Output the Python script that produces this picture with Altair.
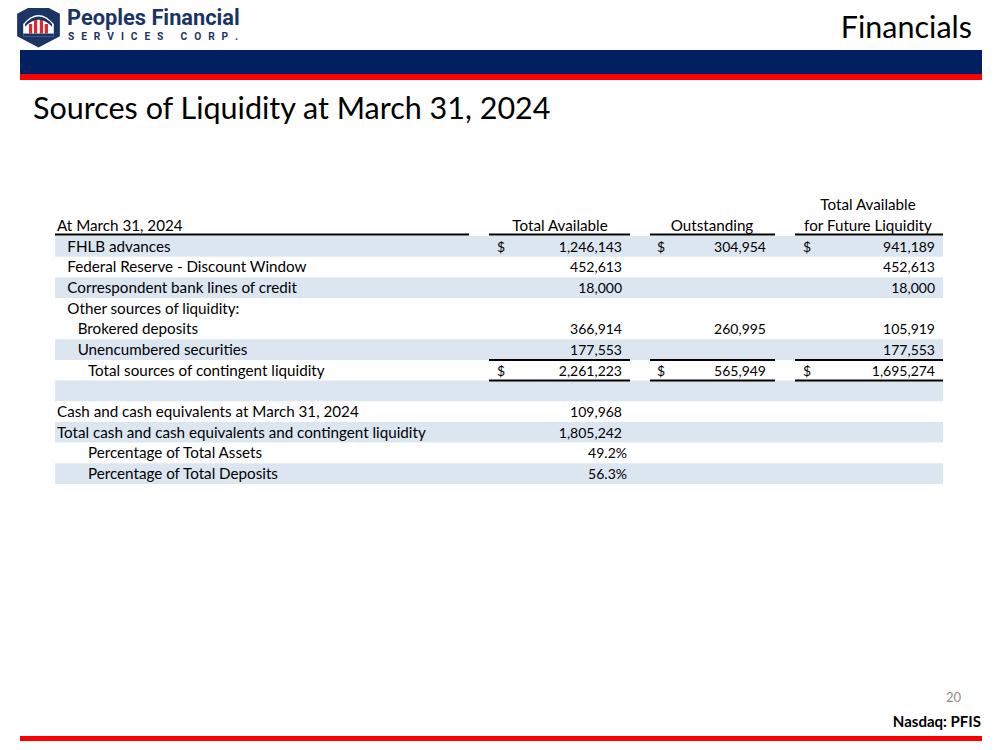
import altair as alt
import pandas as pd

# ---------------- data ----------------
labels = [
    "FHLB advances",
    "Federal Reserve - Discount Window",
    "Correspondent bank lines of credit",
    "Other sources of liquidity:",
    "Brokered deposits",
    "Unencumbered securities",
    "Total sources of contingent liquidity",
    "",
    "Cash and cash equivalents at March 31, 2024",
    "Total cash and cash equivalents and contingent liquidity",
    "Percentage of Total Assets",
    "Percentage of Total Deposits",
]
indent = [1, 1, 1, 1, 2, 2, 3, 0, 0, 0, 3, 3]
shaded = [1, 0, 1, 0, 0, 1, 0, 1, 0, 1, 0, 1]
dollar = [1, 0, 0, 0, 0, 0, 1, 0, 0, 0, 0, 0]
total_available = [1246143, 452613, 18000, None, 366914, 177553, 2261223, None, 109968, 1805242, None, None]
outstanding = [304954, None, None, None, 260995, None, 565949, None, None, None, None, None]
future_liquidity = [941189, 452613, 18000, None, 105919, 177553, 1695274, None, None, None, None, None]
percentages = [None] * 10 + [0.492, 0.563]

header_label = "At March 31, 2024"
col_headers = ["Total Available", "Outstanding", "Total Available", "for Future Liquidity"]
slide_title = "Sources of Liquidity at March 31, 2024"
section = "Financials"
page_no = "20"
ticker = "Nasdaq: PFIS"
company = "Peoples Financial"
company_sub_words = ["SERVICES", "CORP."]

# ---------------- layout helpers ----------------
TOP_PAD = 8
W, H = 983, 734 - TOP_PAD
FONT = "Lato"
NAVY = "#002060"
LOGO_NAVY = "#1B3466"
RED = "#FF0000"
BAND = "#DCE6F1"
LABEL_SIZE = 15.2
NUM_SIZE = 14


def px(v):
    return v - 8  # page margin


def py(v):
    return v - 8 - TOP_PAD  # page margin + top padding


df = pd.DataFrame({
    "row": list(range(len(labels))),
    "label": labels,
    "indent": indent,
    "shaded": shaded,
    "dollar": dollar,
    "ta": total_available,
    "out": outstanding,
    "fut": future_liquidity,
    "pct": percentages,
})
df["lo"] = df["row"] - 0.5
df["hi"] = df["row"] + 0.5

yscale = alt.Scale(domain=[0, 11], range=[py(246.3), py(473.6)])
ONE = pd.DataFrame({"k": [0]})


def txt(s, x, y, size=14, align="left", weight="normal", color="#000000", font=FONT):
    return alt.Chart(pd.DataFrame({"t": [s]})).mark_text(
        align=align, baseline="alphabetic", fontSize=size, fontWeight=weight,
        color=color, font=font
    ).encode(x=alt.value(px(x)), y=alt.value(py(y)), text="t:N")


def box(x1, x2, y1, y2, color):
    return alt.Chart(ONE).mark_rect(color=color).encode(
        x=alt.value(px(x1)), x2=alt.value(px(x2)), y=alt.value(py(y1)), y2=alt.value(py(y2))
    )


def hrule(x1, x2, y, w=2):
    return alt.Chart(ONE).mark_rule(color="#000000", strokeWidth=w).encode(
        x=alt.value(px(x1)), x2=alt.value(px(x2)), y=alt.value(py(y))
    )


layers = []

# header bars
layers.append(box(20, 982, 50, 74, NAVY))
layers.append(box(20, 982, 74, 80, RED))
# footer line
layers.append(box(20, 982, 736, 741, RED))

# logo
LOGO_SIZE = 2025
hexagon = "M0,-1 L0.95,-0.5 L0.95,0.5 L0,1 L-0.95,0.5 L-0.95,-0.5 Z"
arch = "M-0.68,0.5 L-0.68,-0.05 Q0,-0.85 0.68,-0.05 L0.68,0.5 Z"
roof = "M-0.6,-0.05 Q0,-0.7 0.6,-0.05 L0.6,0.08 Q0,-0.55 -0.6,0.08 Z"
bars = ("M-0.42,-0.05 L-0.28,-0.05 L-0.28,0.38 L-0.42,0.38 Z "
        "M-0.2,-0.22 L-0.06,-0.22 L-0.06,0.38 L-0.2,0.38 Z "
        "M0.06,-0.22 L0.2,-0.22 L0.2,0.38 L0.06,0.38 Z "
        "M0.28,-0.05 L0.42,-0.05 L0.42,0.38 L0.28,0.38 Z")
base = "M-0.68,0.38 L0.68,0.38 L0.68,0.5 L-0.68,0.5 Z"
for shape, col in [(hexagon, LOGO_NAVY), (arch, "#FFFFFF"), (roof, LOGO_NAVY), (bars, "#E0262B"), (base, LOGO_NAVY)]:
    layers.append(
        alt.Chart(ONE).mark_point(shape=shape, size=LOGO_SIZE, filled=True, color=col, opacity=1, strokeWidth=0)
        .encode(x=alt.value(px(38.5)), y=alt.value(py(25)))
    )
layers.append(txt(company, 67, 25, size=21.8, weight="bold", color=LOGO_NAVY, font="Roboto"))
GAP = "\u2002\u2006"
WORD_GAP = "\u2003\u2002\u2006"
sub = WORD_GAP.join(GAP.join(list(w)) for w in company_sub_words)
layers.append(txt(sub, 68, 39.5, size=10.2, weight="bold", color=LOGO_NAVY, font="Roboto"))

# slide titles
layers.append(txt(section, 972, 38, size=30.5, align="right"))
layers.append(txt(slide_title, 33, 119, size=30.5))

# band shading
layers.append(
    alt.Chart(df).transform_filter("datum.shaded == 1").mark_rect(color=BAND).encode(
        x=alt.value(px(55)), x2=alt.value(px(943)),
        y=alt.Y("lo:Q", scale=yscale, axis=None), y2="hi:Q"
    )
)

# table header
layers.append(txt(header_label, 57, 230.5, size=LABEL_SIZE))
layers.append(txt(col_headers[0], 560, 230.5, size=LABEL_SIZE, align="center"))
layers.append(txt(col_headers[1], 712, 230.5, size=LABEL_SIZE, align="center"))
layers.append(txt(col_headers[2], 868, 210, size=LABEL_SIZE, align="center"))
layers.append(txt(col_headers[3], 868, 230.5, size=LABEL_SIZE, align="center"))
for x1, x2 in [(55, 469), (489, 630), (650, 775), (795, 943)]:
    layers.append(hrule(x1, x2, 234.5))

# total underlines (above and below the total row)
for x1, x2 in [(489, 630), (650, 775), (795, 943)]:
    for r in (5.5, 6.5):
        layers.append(
            alt.Chart(pd.DataFrame({"r": [r]})).mark_rule(color="#000000", strokeWidth=2).encode(
                x=alt.value(px(x1)), x2=alt.value(px(x2)), y=alt.Y("r:Q", scale=yscale, axis=None)
            )
        )

# row labels
layers.append(
    alt.Chart(df).transform_filter("datum.label != ''").mark_text(
        align="left", baseline="alphabetic", dy=5.5, fontSize=LABEL_SIZE, font=FONT, color="#000000"
    ).encode(
        x=alt.X("indent:Q", scale=alt.Scale(domain=[0, 3], range=[px(57), px(88)]), axis=None),
        y=alt.Y("row:Q", scale=yscale, axis=None),
        text="label:N",
    )
)


def value_layer(field, xright, fmt):
    return alt.Chart(df).transform_filter(f"isValid(datum.{field})").mark_text(
        align="right", baseline="alphabetic", dy=5.5, fontSize=NUM_SIZE, font=FONT, color="#000000"
    ).encode(
        x=alt.value(px(xright)),
        y=alt.Y("row:Q", scale=yscale, axis=None),
        text=alt.Text(f"{field}:Q", format=fmt),
    )


def dollar_layer(xleft):
    return alt.Chart(df).transform_filter("datum.dollar == 1").mark_text(
        align="left", baseline="alphabetic", dy=5.5, fontSize=NUM_SIZE, font=FONT, color="#000000"
    ).encode(
        x=alt.value(px(xleft)),
        y=alt.Y("row:Q", scale=yscale, axis=None),
        text=alt.value("$"),
    )


layers.append(value_layer("ta", 622, ","))
layers.append(value_layer("out", 766, ","))
layers.append(value_layer("fut", 935, ","))
layers.append(value_layer("pct", 627, ".1%"))
layers.append(dollar_layer(497))
layers.append(dollar_layer(657))
layers.append(dollar_layer(803))

# footer
layers.append(txt(page_no, 961, 702, size=13, align="right", color="#8C8C8C"))
layers.append(txt(ticker, 981, 727, size=15, align="right", weight="bold"))

chart = alt.layer(*layers).properties(
    width=W, height=H,
    autosize=alt.AutoSizeParams(type="none"),
    padding={"left": 0, "top": TOP_PAD, "right": 0, "bottom": 0},
    background="#FFFFFF",
).configure_view(stroke=None)

chart.save("out.html", embed_options={"renderer": "svg", "actions": False})
